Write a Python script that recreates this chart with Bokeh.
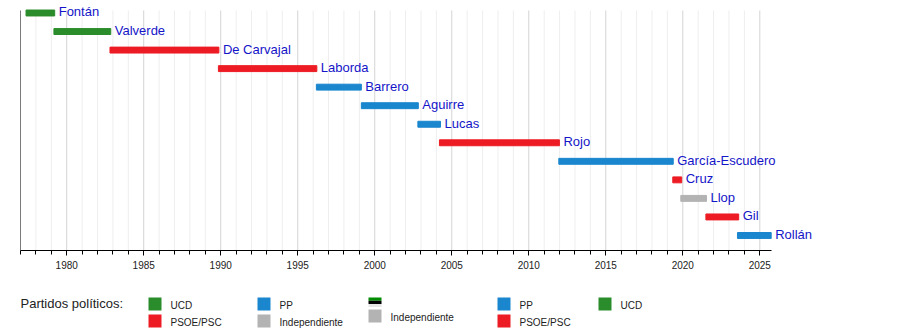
from bokeh.plotting import figure
from bokeh.models import (ColumnDataSource, Range1d, FixedTicker, LabelSet, Label)
from bokeh.layouts import column
from bokeh.core.properties import value
from bokeh.embed import file_html
from bokeh.resources import INLINE

# ---------------- data ----------------
names = ["Fontán", "Valverde", "De Carvajal", "Laborda", "Barrero", "Aguirre", "Lucas",
         "Rojo", "García-Escudero", "Cruz", "Llop", "Gil", "Rollán"]
starts = [1977.36, 1979.17, 1982.81, 1989.85, 1996.21, 1999.13, 2002.80,
          2004.20, 2011.95, 2019.35, 2019.87, 2021.50, 2023.55]
ends = [1979.22, 1982.86, 1989.88, 1996.24, 1999.13, 2002.83, 2004.27,
        2011.99, 2019.38, 2019.93, 2021.54, 2023.63, 2025.74]
parties = ["UCD", "UCD", "PSOE", "PSOE", "PP", "PP", "PP",
           "PSOE", "PP", "PSOE", "IND", "PSOE", "PP"]
party_colors = {"UCD": "#2b8c2b", "PSOE": "#ed1c24", "PP": "#1a86ce", "IND": "#b3b3b3"}

x_start, x_end = 1977.0, 2025.74
major_years = list(range(1980, 2026, 5))
minor_years = list(range(1977, 2026))

legend_title = "Partidos políticos:"
legend_cols = [
    [("UCD", "#2b8c2b"), ("PSOE/PSC", "#ed1c24")],
    [("PP", "#1a86ce"), ("Independiente", "#b3b3b3")],
    [(None, None), ("Independiente", "#b3b3b3")],
    [("PP", "#1a86ce"), ("PSOE/PSC", "#ed1c24")],
    [("UCD", "#2b8c2b")],
]
stripe_colors = ["#008c00", "#000000", "#e6e6e6"]

FONT = "Liberation Sans"

# ---------------- main timeline ----------------
# frame spans x pixels 20..900; axis spans 20..770.7
x_frame_end = x_start + (x_end - x_start) * 880.0 / 750.7
y_top_axis = -0.135   # pixel 10
y_bottom = 12.81      # pixel 250
y_frame_top = -0.674  # pixel 0

rows = list(range(len(names)))
src = ColumnDataSource(dict(
    name=names, start=starts, end=ends, row=rows,
    color=[party_colors[p] for p in parties],
))

p = figure(width=900, height=280, output_backend="svg", toolbar_location=None,
           x_range=Range1d(x_start, x_frame_end), y_range=Range1d(y_bottom, y_frame_top),
           y_axis_location=None, min_border_left=20, min_border_right=0,
           min_border_top=0, min_border_bottom=30)
p.outline_line_color = None
p.background_fill_color = "white"
p.border_fill_color = "white"
p.xgrid.visible = False
p.ygrid.visible = False

# grid lines
minor_only = [y for y in minor_years if y % 5 != 0]
p.segment(x0=minor_only, x1=minor_only, y0=[y_top_axis] * len(minor_only),
          y1=[y_bottom] * len(minor_only), line_color="#eeeeee", line_width=1)
p.segment(x0=major_years, x1=major_years, y0=[y_top_axis] * len(major_years),
          y1=[y_bottom] * len(major_years), line_color="#d4d4d4", line_width=1)
# left axis line
p.segment(x0=[x_start], x1=[x_start], y0=[y_top_axis], y1=[y_bottom],
          line_color="black", line_width=1)

p.hbar(y="row", left="start", right="end", height=0.32, color="color", source=src)

labels = LabelSet(x="end", y="row", text="name", source=src, x_offset=4, y_offset=1,
                  text_baseline="middle", text_color="#1414c8",
                  text_font=value(FONT), text_font_size="13px")
p.add_layout(labels)

p.xaxis.ticker = FixedTicker(ticks=major_years, minor_ticks=minor_years)
p.xaxis.bounds = (x_start, x_end)
p.xaxis.axis_line_color = "black"
p.xaxis.major_tick_line_color = "black"
p.xaxis.minor_tick_line_color = "black"
p.xaxis.major_tick_in = 0
p.xaxis.minor_tick_in = 0
p.xaxis.major_tick_out = 5
p.xaxis.minor_tick_out = 4
p.xaxis.major_label_standoff = 5
p.xaxis.major_label_text_font = FONT
p.xaxis.major_label_text_font_size = "10px"
p.xaxis.major_label_text_color = "#222222"

# ---------------- legend strip ----------------
lg = figure(width=900, height=50, output_backend="svg", toolbar_location=None,
            x_range=Range1d(20, 900), y_range=Range1d(50, 0),
            x_axis_location=None, y_axis_location=None,
            min_border_left=20, min_border_right=0, min_border_top=0, min_border_bottom=0)
lg.outline_line_color = None
lg.xgrid.visible = False
lg.ygrid.visible = False
lg.background_fill_color = "white"
lg.border_fill_color = "white"

lg.add_layout(Label(x=20, y=23, text=legend_title, text_font=FONT, text_font_size="13px",
                    text_baseline="middle", text_color="#222222"))

col_x = [148, 257, 368, 497, 598]
row_top = [17, 34]
sw = 13
for cx, entries in zip(col_x, legend_cols):
    for ri, (lab, colr) in enumerate(entries):
        if lab is None:
            continue
        top = 29 if cx == 368 else row_top[ri]
        lg.quad(left=[cx], right=[cx + sw], top=[top], bottom=[top + sw],
                color=colr, line_color=None)
        lg.add_layout(Label(x=cx + 22, y=top + sw / 2 + 1, text=lab, text_font=FONT,
                            text_font_size="10px", text_baseline="middle",
                            text_color="#222222"))
# stripes icon
for i, sc in enumerate(stripe_colors):
    lg.quad(left=[368], right=[368 + sw], top=[17 + i * 3.2], bottom=[17 + (i + 1) * 3.2],
            color=sc, line_color=None)

layout = column(p, lg, spacing=0)
open("out.html", "w").write(file_html(layout, INLINE))
